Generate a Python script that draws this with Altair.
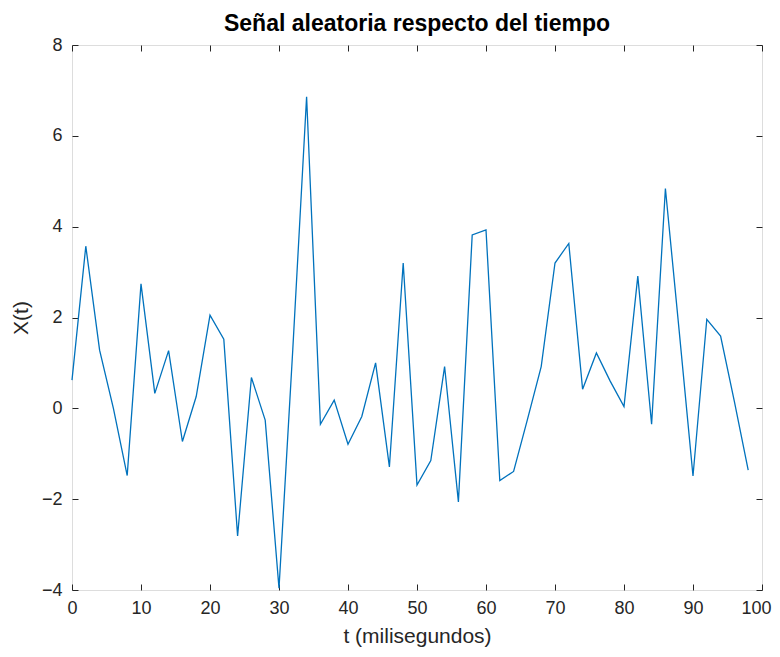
import altair as alt
import pandas as pd

t_ms = list(range(0, 100, 2))
x_vals = [0.62, 3.57, 1.28, 0.0, -1.48, 2.74, 0.33, 1.27, -0.73, 0.26,
          2.05, 1.52, -2.81, 0.68, -0.26, -3.96, 1.3, 6.86, -0.35, 0.18,
          -0.79, -0.18, 1.0, -1.29, 3.2, -1.69, -1.15, 0.92, -2.06, 3.82,
          3.93, -1.59, -1.39, -0.25, 0.92, 3.2, 3.63, 0.42, 1.22, 0.6,
          0.04, 2.91, -0.35, 4.84, 1.7, -1.49, 1.96, 1.59, 0.15, -1.36]

x_ticks = list(range(0, 101, 10))
y_ticks = list(range(-4, 9, 2))

df = pd.DataFrame({"t": t_ms, "X": x_vals})

FONT = "Liberation Sans"
INK = "#262626"

xscale = alt.Scale(domain=[0, 100], nice=False, zero=False)
yscale = alt.Scale(domain=[-4, 8], nice=False, zero=False)

common_axis = dict(grid=False, domain=False, tickColor=INK, tickWidth=1,
                   labelColor=INK, labelFont=FONT, labelFontSize=18,
                   labelFlush=False, labelOverlap=False,
                   titleFont=FONT, titleColor=INK, titleFontWeight="normal",
                   titleFontSize=21)

main = alt.Chart(df).mark_line(color="#0072BD", strokeWidth=1.3).encode(
    x=alt.X("t:Q", scale=xscale,
            axis=alt.Axis(values=x_ticks, orient="bottom", offset=-6, tickSize=6,
                          labelPadding=9, title="t (milisegundos)", titlePadding=8,
                          labelOffset=alt.ExprRef(expr="datum.value == 100 ? -6 : 0"),
                          **common_axis)),
    y=alt.Y("X:Q", scale=yscale,
            axis=alt.Axis(values=y_ticks, orient="left", offset=-6, tickSize=6,
                          labelPadding=10, title="X(t)", titlePadding=10,
                          **common_axis)),
)

frame = alt.Chart(df).mark_line(opacity=0).encode(
    x=alt.X("t:Q", scale=xscale,
            axis=alt.Axis(values=x_ticks, orient="top", offset=-6, tickSize=6,
                          labels=False, title=None, **common_axis)),
    y=alt.Y("X:Q", scale=yscale,
            axis=alt.Axis(values=y_ticks, orient="right", offset=-6, tickSize=6,
                          labels=False, title=None, **common_axis)),
)

chart = alt.layer(main, frame).resolve_axis(x="independent", y="independent").properties(
    width=690, height=545,
    title=alt.TitleParams("Señal aleatoria respecto del tiempo", font=FONT, fontSize=23,
                          fontWeight="bold", color="black", offset=0, anchor="middle"),
    autosize=alt.AutoSizeParams(type="none"),
    padding={"left": 64, "top": 37, "right": 10, "bottom": 58},
).configure_view(stroke=INK, strokeWidth=1.2).configure(background="white")

chart.save("out.html", embed_options={"renderer": "svg", "actions": False})
